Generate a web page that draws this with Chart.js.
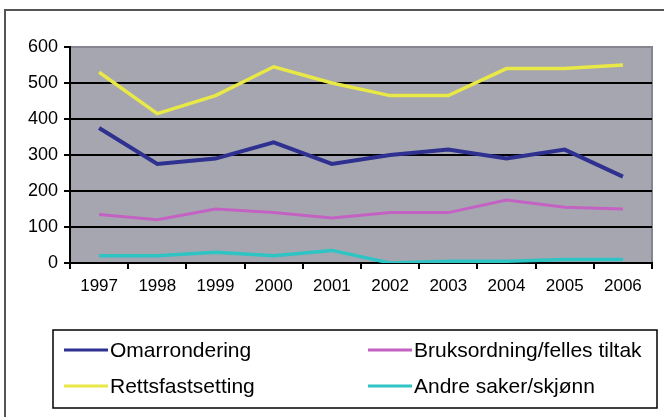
<!DOCTYPE html>
<html>
<head>
<meta charset="utf-8">
<script src="https://cdn.jsdelivr.net/npm/chart.js@4/dist/chart.umd.min.js"></script>
<style>
  html, body { margin: 0; padding: 0; background: #ffffff; }
  #wrap { width: 664px; height: 417px; }
</style>
</head>
<body>
<div id="wrap"><canvas id="chart" width="664" height="417"></canvas></div>
<script>
const years = ['1997', '1998', '1999', '2000', '2001', '2002', '2003', '2004', '2005', '2006'];
const omarrondering = [375, 275, 290, 335, 275, 300, 315, 290, 315, 240];
const rettsfastsetting = [530, 415, 465, 545, 500, 465, 465, 540, 540, 550];
const bruksordning = [135, 120, 150, 140, 125, 140, 140, 175, 155, 150];
const andreSaker = [20, 20, 30, 20, 35, 0, 5, 5, 10, 10];
const yTicks = [0, 100, 200, 300, 400, 500, 600];

// gray plot background + outer frame
const frame = {
  id: 'frame',
  beforeDraw(chart) {
    const { ctx, chartArea: a } = chart;
    ctx.save();
    ctx.fillStyle = '#a6a6b0';
    ctx.fillRect(a.left, a.top, a.right - a.left, a.bottom - a.top);
    ctx.strokeStyle = '#85858f';
    ctx.lineWidth = 2;
    ctx.strokeRect(a.left, a.top, a.right - a.left, a.bottom - a.top);
    ctx.strokeStyle = '#555555';
    ctx.lineWidth = 2;
    ctx.beginPath();
    ctx.moveTo(5, 417);
    ctx.lineTo(5, 10);
    ctx.lineTo(664, 10);
    ctx.stroke();
    ctx.restore();
  },
  afterDatasetsDraw(chart) {
    // top edge of the plot is gray, not a black gridline
    const { ctx, chartArea: a } = chart;
    ctx.save();
    ctx.strokeStyle = '#85858f';
    ctx.lineWidth = 2;
    ctx.beginPath();
    ctx.moveTo(a.left + 1, a.top);
    ctx.lineTo(a.right, a.top);
    ctx.stroke();
    ctx.restore();
  }
};

// boxed two-column legend under the plot
const boxLegend = {
  id: 'boxLegend',
  afterDraw(chart) {
    const { ctx } = chart;
    const cols = [64, 368];
    const rows = [350, 386];
    ctx.save();
    ctx.strokeStyle = '#000000';
    ctx.lineWidth = 1.5;
    ctx.strokeRect(53, 330, 604, 78);
    ctx.font = '21px "Liberation Sans", Arial, sans-serif';
    ctx.textBaseline = 'middle';
    ctx.fillStyle = '#000000';
    chart.data.datasets.forEach((ds, i) => {
      const x = cols[i % 2];
      const y = rows[Math.floor(i / 2)];
      ctx.strokeStyle = ds.borderColor;
      ctx.lineWidth = 3;
      ctx.beginPath();
      ctx.moveTo(x, y);
      ctx.lineTo(x + 44, y);
      ctx.stroke();
      ctx.fillText(ds.label, x + 46, y + 1);
    });
    ctx.restore();
  }
};

new Chart(document.getElementById('chart'), {
  type: 'line',
  data: {
    labels: years,
    datasets: [
      { label: 'Omarrondering', data: omarrondering, borderColor: '#2e3190', borderWidth: 4 },
      { label: 'Bruksordning/felles tiltak', data: bruksordning, borderColor: '#c462c4', borderWidth: 3 },
      { label: 'Rettsfastsetting', data: rettsfastsetting, borderColor: '#e8e846', borderWidth: 3.5 },
      { label: 'Andre saker/skjønn', data: andreSaker, borderColor: '#2ec4c4', borderWidth: 3.5 }
    ].map(d => ({ ...d, pointRadius: 0, tension: 0, fill: false }))
  },
  plugins: [frame, boxLegend],
  options: {
    responsive: false,
    animation: false,
    layout: { padding: { left: 5, top: 47, right: 12, bottom: 117 } },
    plugins: {
      legend: { display: false },
      tooltip: { enabled: false }
    },
    scales: {
      x: {
        offset: true,
        afterFit: s => { s.height = 37; },
        border: { color: '#000000', width: 2 },
        grid: {
          offset: true,
          drawOnChartArea: false,
          drawTicks: true,
          tickLength: 6,
          color: '#000000',
          lineWidth: 2
        },
        ticks: {
          color: '#000000',
          font: { family: '"Liberation Sans", Arial, sans-serif', size: 17 },
          padding: 7,
          maxRotation: 0
        }
      },
      y: {
        min: 0,
        max: 600,
        afterFit: s => { s.width = 65; },
        afterBuildTicks: s => { s.ticks = yTicks.map(v => ({ value: v })); },
        border: { color: '#000000', width: 2 },
        grid: {
          color: '#000000',
          lineWidth: 2,
          drawTicks: true,
          tickLength: 6
        },
        ticks: {
          color: '#000000',
          font: { family: '"Liberation Sans", Arial, sans-serif', size: 18 },
          padding: 6
        }
      }
    }
  }
});
</script>
</body>
</html>
